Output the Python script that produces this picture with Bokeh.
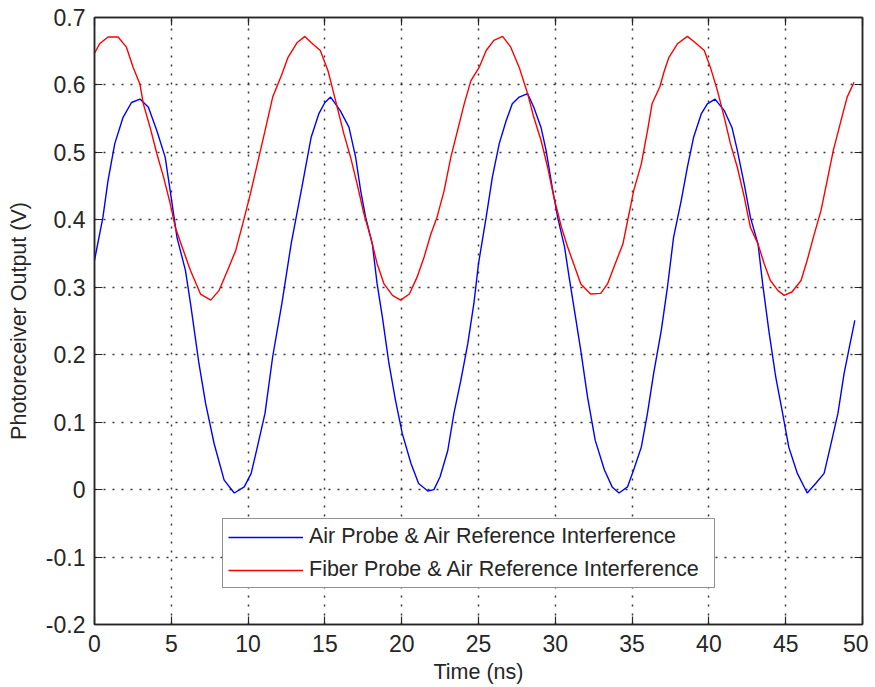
from bokeh.plotting import figure
from bokeh.models import LinearAxis, FixedTicker, Legend, LegendItem, Range1d
from bokeh.embed import file_html
from bokeh.resources import INLINE

# ---- data (time in ns, output in V) ----
air_t = [0.0, 0.55, 0.88, 1.32, 1.86, 2.41, 2.96, 3.51, 4.06, 4.6, 4.93, 5.37, 5.92,
         6.25, 6.8, 7.24, 7.79, 8.44, 9.1, 9.75, 10.2, 10.6, 11.1, 11.6, 12.2, 12.8,
         13.5, 14.1, 14.6, 15.0, 15.37, 16.0, 16.57, 17.0, 17.33, 17.65, 18.09, 18.4,
         18.74, 19.17, 19.6, 20.04, 20.6, 21.1, 21.7, 22.1, 22.5, 23.0, 23.4, 23.85,
         24.3, 24.7, 25.0, 25.5, 25.9, 26.35, 26.8, 27.2, 27.65, 28.2, 28.6, 29.07,
         29.4, 29.8, 30.15, 30.6, 30.9, 31.35, 31.66, 32.1, 32.6, 33.2, 33.7, 34.15,
         34.7, 35.1, 35.6, 36.0, 36.4, 36.9, 37.3, 37.7, 38.2, 38.6, 39.0, 39.5, 39.9,
         40.4, 41.0, 41.5, 41.85, 42.3, 42.7, 43.2, 43.5, 43.9, 44.35, 44.8, 45.2,
         45.76, 46.4, 46.95, 47.5, 47.9, 48.4, 48.8, 49.1, 49.5]
air_v = [0.340, 0.404, 0.458, 0.513, 0.552, 0.574, 0.579, 0.567, 0.532, 0.493, 0.443,
         0.374, 0.325, 0.276, 0.187, 0.127, 0.068, 0.014, -0.005, 0.004, 0.024, 0.063,
         0.113, 0.197, 0.276, 0.364, 0.448, 0.522, 0.557, 0.574, 0.582, 0.562, 0.537,
         0.493, 0.443, 0.404, 0.364, 0.305, 0.256, 0.187, 0.132, 0.083, 0.039, 0.009,
         -0.002, 0.000, 0.019, 0.058, 0.113, 0.162, 0.216, 0.276, 0.335, 0.404, 0.463,
         0.513, 0.547, 0.572, 0.582, 0.587, 0.567, 0.537, 0.503, 0.448, 0.404, 0.360,
         0.315, 0.251, 0.206, 0.137, 0.073, 0.029, 0.004, -0.005, 0.004, 0.029, 0.063,
         0.113, 0.172, 0.236, 0.300, 0.374, 0.429, 0.478, 0.522, 0.557, 0.572, 0.579,
         0.562, 0.537, 0.503, 0.453, 0.404, 0.364, 0.305, 0.236, 0.167, 0.113, 0.063,
         0.024, -0.005, 0.009, 0.024, 0.063, 0.113, 0.172, 0.206, 0.251]

fiber_t = [0.0, 0.33, 0.88, 1.54, 2.08, 2.52, 2.96, 3.18, 3.62, 4.06, 4.5, 4.93, 5.26,
           5.7, 6.25, 6.9, 7.57, 8.1, 8.66, 9.2, 9.65, 10.1, 10.5, 11.1, 11.6, 12.2,
           12.6, 13.2, 13.7, 14.1, 14.7, 15.2, 15.37, 15.8, 16.24, 16.67, 17.1, 17.54,
           17.98, 18.4, 18.85, 19.4, 19.93, 20.5, 21.0, 21.46, 21.9, 22.3, 22.76, 23.2,
           23.63, 24.07, 24.5, 25.04, 25.5, 26.0, 26.57, 27.1, 27.65, 28.2, 28.6, 29.07,
           29.5, 29.9, 30.4, 30.8, 31.35, 31.66, 32.3, 32.96, 33.4, 33.9, 34.4, 34.8,
           35.1, 35.6, 36.0, 36.3, 36.8, 37.1, 37.4, 37.95, 38.6, 39.1, 39.7, 40.1,
           40.55, 41.0, 41.4, 41.85, 42.3, 42.7, 43.2, 43.6, 44.0, 44.5, 44.9, 45.4,
           46.0, 46.4, 46.8, 47.3, 47.7, 48.1, 48.6, 49.0, 49.45]
fiber_v = [0.647, 0.661, 0.671, 0.671, 0.656, 0.626, 0.601, 0.572, 0.537, 0.498, 0.463,
           0.424, 0.389, 0.360, 0.325, 0.290, 0.281, 0.295, 0.325, 0.355, 0.394, 0.434,
           0.473, 0.532, 0.582, 0.616, 0.641, 0.663, 0.672, 0.663, 0.651, 0.621, 0.606,
           0.567, 0.527, 0.493, 0.453, 0.409, 0.374, 0.335, 0.305, 0.288, 0.281, 0.290,
           0.315, 0.345, 0.379, 0.404, 0.443, 0.493, 0.532, 0.572, 0.606, 0.626, 0.651,
           0.666, 0.672, 0.656, 0.626, 0.587, 0.552, 0.518, 0.478, 0.434, 0.389, 0.360,
           0.325, 0.305, 0.290, 0.291, 0.305, 0.335, 0.364, 0.409, 0.443, 0.483, 0.532,
           0.572, 0.597, 0.621, 0.641, 0.661, 0.672, 0.663, 0.651, 0.626, 0.592, 0.552,
           0.513, 0.478, 0.434, 0.389, 0.364, 0.335, 0.310, 0.295, 0.288, 0.293, 0.310,
           0.340, 0.374, 0.414, 0.458, 0.503, 0.547, 0.582, 0.604]

x_ticks = [0, 5, 10, 15, 20, 25, 30, 35, 40, 45, 50]
x_tick_labels = ["0", "5", "10", "15", "20", "25", "30", "35", "40", "45", "50"]
y_ticks = [-0.2, -0.1, 0, 0.1, 0.2, 0.3, 0.4, 0.5, 0.6, 0.7]
y_tick_labels = ["-0.2", "-0.1", "0", "0.1", "0.2", "0.3", "0.4", "0.5", "0.6", "0.7"]

series_names = ["Air Probe & Air Reference Interference",
                "Fiber Probe & Air Reference Interference"]

FONT = "Liberation Sans"
TICK_FS = "23px"
FS = "21.5px"
TXT = "#262626"

p = figure(frame_width=768, frame_height=607, output_backend="svg",
           toolbar_location=None, x_range=Range1d(0, 50), y_range=Range1d(-0.2, 0.7),
           min_border_left=94, min_border_top=17, min_border_right=6,
           min_border_bottom=50, background_fill_color="white",
           border_fill_color="white")

p.outline_line_color = "#262626"
p.outline_line_width = 1.5

for ax, ticks, labels in ((p.xaxis[0], x_ticks, x_tick_labels),
                          (p.yaxis[0], y_ticks, y_tick_labels)):
    ax.ticker = FixedTicker(ticks=ticks)
    ax.major_label_overrides = {t: l for t, l in zip(ticks, labels)}
    ax.major_tick_in = 8
    ax.major_tick_out = 0
    ax.minor_tick_line_color = None
    ax.axis_line_color = "#262626"
    ax.axis_line_width = 1.5
    ax.major_tick_line_color = "#262626"
    ax.major_tick_line_width = 1.2
    ax.major_label_text_font = FONT
    ax.major_label_text_font_size = TICK_FS
    ax.major_label_text_color = TXT
    ax.axis_label_text_font = FONT
    ax.axis_label_text_font_size = FS
    ax.axis_label_text_font_style = "normal"
    ax.axis_label_text_color = TXT

p.xaxis.axis_label = "Time (ns)"
p.yaxis.axis_label = "Photoreceiver Output (V)"
p.xaxis.major_label_standoff = 10
p.xaxis.axis_label_standoff = 5
p.yaxis.major_label_standoff = 9
p.yaxis.axis_label_standoff = 12

for side, ticks in (("above", x_ticks), ("right", y_ticks)):
    a = LinearAxis(ticker=FixedTicker(ticks=ticks), major_tick_in=8,
                   major_tick_out=0, minor_tick_line_color=None,
                   major_label_overrides={t: "" for t in ticks},
                   axis_line_color="#262626",
                   axis_line_width=1.5, major_tick_line_color="#262626",
                   major_tick_line_width=1.2, major_label_standoff=0)
    p.add_layout(a, side)

p.xgrid.ticker = FixedTicker(ticks=x_ticks)
p.ygrid.ticker = FixedTicker(ticks=y_ticks)
for g in (p.xgrid[0], p.ygrid[0]):
    g.grid_line_color = "#222222"
    g.grid_line_dash = "2 7"
    g.grid_line_width = 1.5
    g.grid_line_alpha = 0.9

r_air = p.line(air_t, air_v, line_color="#0000ff", line_width=1.4)
r_fib = p.line(fiber_t, fiber_v, line_color="#ff0000", line_width=1.4)

legend = Legend(items=[LegendItem(label=series_names[0], renderers=[r_air]),
                       LegendItem(label=series_names[1], renderers=[r_fib])],
                location=(128, 36), label_text_font=FONT, label_text_font_size=FS,
                label_text_color=TXT, glyph_width=75, glyph_height=20,
                label_height=20, label_width=400, spacing=8, padding=5,
                label_standoff=6,
                border_line_color="#262626", border_line_width=1.5,
                background_fill_color="white", background_fill_alpha=1,
                margin=0)
p.add_layout(legend, "center")

open("out.html", "w").write(file_html(p, INLINE))
